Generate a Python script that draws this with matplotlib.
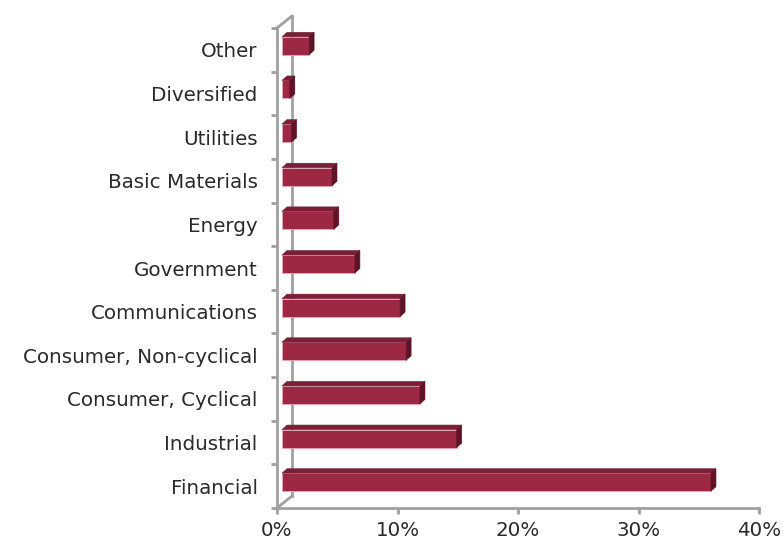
import matplotlib
matplotlib.use("Agg")
import matplotlib.pyplot as plt
from matplotlib.patches import Polygon
from matplotlib.ticker import FuncFormatter

# sectors from bottom to top
sectors = ['Financial', 'Industrial', 'Consumer, Cyclical', 'Consumer, Non-cyclical',
           'Communications', 'Government', 'Energy', 'Basic Materials',
           'Utilities', 'Diversified', 'Other']
weights = [35.6, 14.5, 11.45, 10.3, 9.8, 6.05, 4.3, 4.15, 0.8, 0.65, 2.25]
x_ticks = [0, 10, 20, 30, 40]

W, H = 783, 545
fig = plt.figure(figsize=(W / 100, H / 100), dpi=100)
plt.rcParams['font.family'] = ['DejaVu Sans']

# front plane of the plot in pixels
x0, x1, yb, yt = 277, 759, 508, 28
ax = fig.add_axes([x0 / W, (H - yb) / H, (x1 - x0) / W, (yb - yt) / H])
ax.set_xlim(0, 40)
ax.set_ylim(-0.5, len(sectors) - 0.5)

# pixel -> data conversion
px_x = 40 / (x1 - x0)
px_y = len(sectors) / (yb - yt)

front_col = '#9c2843'
top_col = '#7a1f35'
side_col = '#5e1426'
edge_col = '#e3a9b6'
grey = '#a0a0a0'

# bar sits a third of the way into the depth
bx, by = 5 * px_x, 4 * px_y       # front face offset
dx, dy = 5 * px_x, 4.5 * px_y     # depth of bar
bh = 18 * px_y

for i, v in enumerate(weights):
    yc = i + by
    ylo, yhi = yc - bh / 2, yc + bh / 2
    xl, xr = bx, bx + v
    ax.barh(yc, v, left=bx, height=bh, color=front_col, edgecolor=edge_col,
            linewidth=0.6, zorder=3)
    top = Polygon([(xl, yhi), (xr, yhi), (xr + dx, yhi + dy), (xl + dx, yhi + dy)],
                  closed=True, facecolor=top_col, edgecolor=top_col, linewidth=0.4, zorder=3)
    side = Polygon([(xr, ylo), (xr + dx, ylo + dy), (xr + dx, yhi + dy), (xr, yhi)],
                   closed=True, facecolor=side_col, edgecolor=side_col, linewidth=0.4, zorder=3)
    ax.add_patch(top)
    ax.add_patch(side)

# back wall and connecting diagonals
wx, wy = 15 * px_x, 12 * px_y
ylo_ax, yhi_ax = -0.5, len(sectors) - 0.5
ax.plot([wx, wx], [ylo_ax + wy, yhi_ax + wy], color=grey, lw=2, clip_on=False, zorder=1)
ax.plot([0, wx], [ylo_ax, ylo_ax + wy], color=grey, lw=2, clip_on=False, zorder=1)
ax.plot([0, wx], [yhi_ax, yhi_ax + wy], color=grey, lw=2, clip_on=False, zorder=1)

for s in ['top', 'right']:
    ax.spines[s].set_visible(False)
for s in ['left', 'bottom']:
    ax.spines[s].set_color(grey)
    ax.spines[s].set_linewidth(2)

ax.set_yticks(range(len(sectors)))
ax.set_yticklabels(sectors)
ax.set_yticks([k - 0.5 for k in range(len(sectors) + 1)], minor=True)
ax.tick_params(axis='y', which='major', length=0, pad=14, labelsize=14.3, labelcolor='#2a2a2a')
ax.tick_params(axis='y', which='minor', length=4, width=2, color=grey)

ax.set_xticks(x_ticks)
ax.xaxis.set_major_formatter(FuncFormatter(lambda v, p: f'{int(v)}%'))
ax.tick_params(axis='x', length=4, width=2, color=grey, pad=5, labelsize=14.3,
               labelcolor='#2a2a2a')

ax.patch.set_visible(False)
fig.savefig('out.png', dpi=100)
